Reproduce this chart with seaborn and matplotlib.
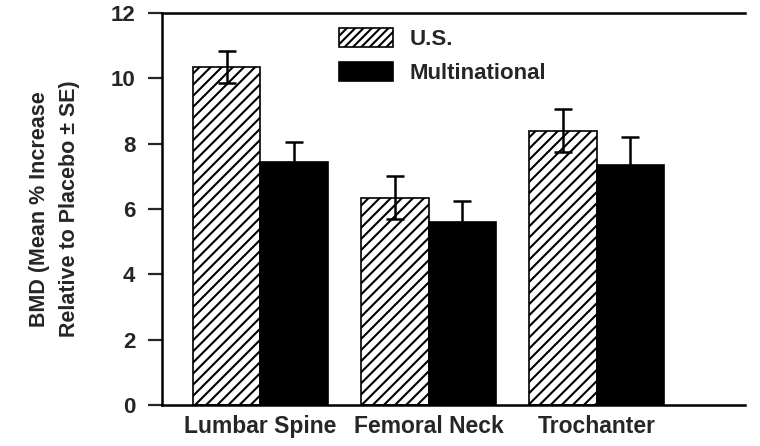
import numpy as np
import pandas as pd
import matplotlib
matplotlib.use("Agg")
import matplotlib.pyplot as plt
import seaborn as sns

# values
sites = ["Lumbar Spine", "Femoral Neck", "Trochanter"]
groups = ["U.S.", "Multinational"]
us_mean = [10.35, 6.35, 8.4]
us_se = [0.5, 0.65, 0.65]
multi_mean = [7.45, 5.6, 7.35]
multi_se = [0.6, 0.65, 0.85]

df = pd.DataFrame({
    "Site": sites * 2,
    "Group": [groups[0]] * 3 + [groups[1]] * 3,
    "BMD": us_mean + multi_mean,
    "SE": us_se + multi_se,
})

sns.set_style("white")
plt.rcParams["font.family"] = ["Liberation Sans", "DejaVu Sans"]
plt.rcParams["hatch.linewidth"] = 1.5

fig = plt.figure(figsize=(7.6, 4.46), dpi=100)
ax = fig.add_axes([0.213, 0.092, 0.767, 0.879])

sns.barplot(data=df, x="Site", y="BMD", hue="Group", hue_order=groups,
            palette=["white", "black"], errorbar=None, ax=ax,
            edgecolor="black", linewidth=1.2, saturation=1)

# hatch the U.S. bars, add SE bars
for cont, g in zip(ax.containers, groups):
    sub = df[df["Group"] == g]
    for bar, m, se in zip(cont, sub["BMD"], sub["SE"]):
        if g == "U.S.":
            bar.set_hatch("///")
        cx = bar.get_x() + bar.get_width() / 2
        ax.errorbar(cx, m, yerr=se, color="black", elinewidth=1.8,
                    capsize=6.5, capthick=1.8)

ax.set_ylim(0, 12)
ax.set_xlim(-0.585, 2.88)
ax.set_yticks([0, 2, 4, 6, 8, 10, 12])
ax.tick_params(axis="y", direction="out", length=10, width=1.6,
               labelsize=16, left=True, pad=9)
ax.tick_params(axis="x", length=0, labelsize=16.5, pad=7)
for lab in ax.get_yticklabels() + ax.get_xticklabels():
    lab.set_fontweight("bold")

ax.set_xlabel("")
ax.set_ylabel("BMD (Mean % Increase\nRelative to Placebo \u00b1 SE)",
              fontsize=15.5, fontweight="bold", labelpad=22, linespacing=1.6)

ax.spines["right"].set_visible(False)
for s in ["left", "top", "bottom"]:
    ax.spines[s].set_linewidth(1.8)
    ax.spines[s].set_color("black")

leg = ax.legend(loc="upper left", bbox_to_anchor=(0.27, 1.012), frameon=False,
                fontsize=16, handlelength=2.4, handleheight=0.9,
                handletextpad=0.75, labelspacing=0.55)
for t in leg.get_texts():
    t.set_fontweight("bold")
leg.legend_handles[0].set_hatch("////")

fig.savefig("out.png", dpi=100)
